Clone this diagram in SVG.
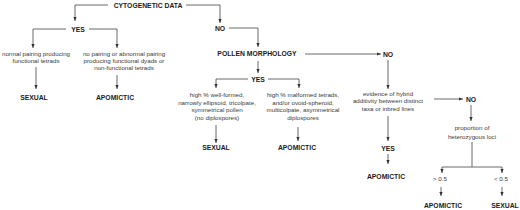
<svg xmlns="http://www.w3.org/2000/svg" width="520" height="210" viewBox="0 0 520 210">
<defs>
<marker id="ah" markerWidth="4" markerHeight="4" viewBox="0 0 4 4" refX="4" refY="2" orient="auto" markerUnits="userSpaceOnUse">
<path d="M0,0.4 L4,2 L0,3.6 Z" fill="#333"/>
</marker>
<style>
.h{font-family:"Liberation Sans",Arial,sans-serif;font-weight:bold;font-size:6.8px;fill:#1a1a1a;text-anchor:middle}
.t{font-family:"Liberation Sans",Arial,sans-serif;font-size:6.2px;fill:#3a3a3a;text-anchor:middle}
.c path{fill:none;stroke:#444;stroke-width:0.8;marker-end:url(#ah)}
</style>
</defs>
<rect width="520" height="210" fill="#fff"/>
<g id="connectors" class="c">
<path d="M108,5 H75 V21"/>
<path d="M186,5 H220 V23"/>
<path d="M66,29 H33 V48"/>
<path d="M89,29 H117 V48"/>
<path d="M36,67 V89"/>
<path d="M117,75 V89"/>
<path d="M229,28 H258 V47"/>
<path d="M258,61 V73"/>
<path d="M248,79 H216 V88"/>
<path d="M268,79 H299 V88"/>
<path d="M216,125 V143"/>
<path d="M298,127 V141"/>
<path d="M305,54 H381"/>
<path d="M388,60 V89"/>
<path d="M388,116 V141"/>
<path d="M388,154 V164"/>
<path d="M434,99 H463"/>
<path d="M471,105 V121"/>
<path d="M472,142 V167" style="marker-end:none"/>
<path d="M472,167 H442 V173"/>
<path d="M472,167 H502 V173"/>
<path d="M441,187 V196"/>
<path d="M502,187 V196"/>
</g>
<g id="cytogenetic"><text class="h" x="148" y="7.5">CYTOGENETIC DATA</text></g>
<g id="yes1"><text class="h" x="78" y="31.5">YES</text></g>
<g id="no1"><text class="h" x="220" y="30.5">NO</text></g>
<g id="normal"><text class="t" x="36" y="55.8">normal pairing producing</text><text class="t" x="36" y="63">functional tetrads</text></g>
<g id="abnormal"><text class="t" x="124" y="55.8">no pairing or abnormal pairing</text><text class="t" x="124" y="63">producing functional dyads or</text><text class="t" x="124" y="70.3">non-functional tetrads</text></g>
<g id="sexual1"><text class="h" x="34" y="100">SEXUAL</text></g>
<g id="apomictic1"><text class="h" x="115" y="100">APOMICTIC</text></g>
<g id="pollen"><text class="h" x="257" y="56">POLLEN MORPHOLOGY</text></g>
<g id="yes2"><text class="h" x="258" y="81.5">YES</text></g>
<g id="wellformed"><text class="t" x="217" y="97">high % well-formed,</text><text class="t" x="217" y="104.6">narrowly ellipsoid, tricolpate,</text><text class="t" x="217" y="112.3">symmetrical pollen</text><text class="t" x="217" y="120">(no diplospores)</text></g>
<g id="malformed"><text class="t" x="303" y="97">high % malformed tetrads,</text><text class="t" x="303" y="104.6">and/or ovoid-spheroid,</text><text class="t" x="303" y="112.3">multicolpate, asymmetrical</text><text class="t" x="303" y="120">diplospores</text></g>
<g id="sexual2"><text class="h" x="216" y="149.5">SEXUAL</text></g>
<g id="apomictic2"><text class="h" x="297" y="149.5">APOMICTIC</text></g>
<g id="no2"><text class="h" x="388" y="56.5">NO</text></g>
<g id="hybrid"><text class="t" x="388" y="96.3">evidence of hybrid</text><text class="t" x="388" y="103.4">additivity between distinct</text><text class="t" x="388" y="110.6">taxa or inbred lines</text></g>
<g id="yes3"><text class="h" x="388" y="150.5">YES</text></g>
<g id="apomictic3"><text class="h" x="386" y="178.5">APOMICTIC</text></g>
<g id="no3"><text class="h" x="471" y="101.5">NO</text></g>
<g id="proportion"><text class="t" x="472" y="129.8">proportion of</text><text class="t" x="472" y="138.6">heterozygous loci</text></g>
<g id="gt"><text class="t" x="440" y="181">&gt; 0.5</text></g>
<g id="lt"><text class="t" x="501" y="181">&lt; 0.5</text></g>
<g id="apomictic4"><text class="h" x="443" y="207.5">APOMICTIC</text></g>
<g id="sexual3"><text class="h" x="505" y="207.5">SEXUAL</text></g>
</svg>
